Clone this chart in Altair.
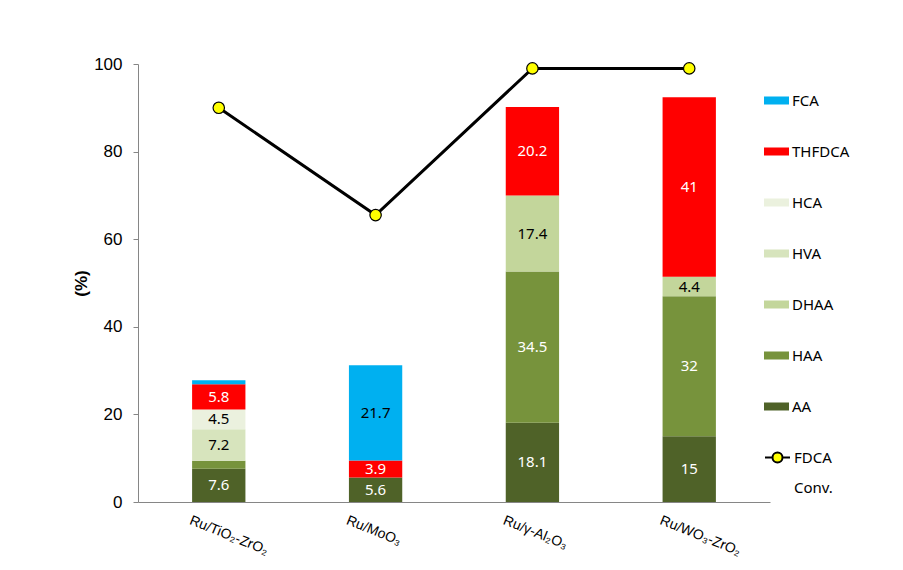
import altair as alt
import pandas as pd

# ---- data ----
catalysts = ["Ru/TiO₂-ZrO₂", "Ru/MoO₃", "Ru/γ-Al₂O₃", "Ru/WO₃-ZrO₂"]
components = ["AA", "HAA", "DHAA", "HVA", "HCA", "THFDCA", "FCA"]  # bottom -> top
AA = [7.6, 5.6, 18.1, 15]
HAA = [1.8, 0, 34.5, 32]
DHAA = [0, 0, 17.4, 4.4]
HVA = [7.2, 0, 0, 0]
HCA = [4.5, 0, 0, 0]
THFDCA = [5.8, 3.9, 20.2, 41]
FCA = [0.9, 21.7, 0, 0]
fdca_conv = [90, 65.5, 99, 99]

legend_order = ["FCA", "THFDCA", "HCA", "HVA", "DHAA", "HAA", "AA"]
legend_colors = ["#00b0f0", "#ff0000", "#ebf1de", "#d7e4bd", "#c3d69b", "#77933c", "#4f6228"]
line_legend = ["FDCA", "Conv."]

series = {"AA": AA, "HAA": HAA, "DHAA": DHAA, "HVA": HVA, "HCA": HCA,
          "THFDCA": THFDCA, "FCA": FCA}

rows = []
for ci, cat in enumerate(catalysts):
    for oi, comp in enumerate(components):
        v = series[comp][ci]
        rows.append({"cat": cat, "comp": comp, "value": v, "ord": oi,
                     "label": f"{v:g}" if v >= 3 else ""})
bars_df = pd.DataFrame(rows)
line_df = pd.DataFrame({"cat": catalysts, "conv": fdca_conv, "s": line_legend[0]})

x_enc = alt.X("cat:N", sort=catalysts, title=None,
              scale=alt.Scale(paddingInner=0.66, paddingOuter=0.345),
              axis=alt.Axis(labelAngle=22, labelAlign="left", labelBaseline="top",
                            labelOffset=-26, labelPadding=11, ticks=False,
                            labelFont="Liberation Sans", labelFontSize=14,
                            labelColor="#000000", domainColor="#868686"))
y_scale = alt.Scale(domain=[0, 100], nice=False)
y_axis = alt.Axis(values=[0, 20, 40, 60, 80, 100], grid=False, title="(%)",
                  titleFont="Liberation Sans", titleFontSize=17, titleFontWeight="bold",
                  titleColor="#000000", titlePadding=3,
                  labelFont="Liberation Sans", labelFontSize=17, labelColor="#000000",
                  labelPadding=11, tickSize=5, tickColor="#868686", domainColor="#868686")

rect_path = "M-1,-0.32H1V0.32H-1Z"
line_sym = ("M-1,0H-0.4M0.4,0H1"
            "M0.4,0A0.4,0.4 0 1,1 -0.4,0A0.4,0.4 0 1,1 0.4,0Z")

base = alt.Chart(bars_df).transform_stack(
    stack="value", groupby=["cat"], as_=["y0", "y1"],
    sort=[alt.SortField("ord", order="ascending")]
)

bars = base.mark_bar().encode(
    x=x_enc,
    y=alt.Y("y0:Q", scale=y_scale, axis=y_axis),
    y2="y1:Q",
    color=alt.Color("comp:N", scale=alt.Scale(domain=legend_order, range=legend_colors),
                    legend=alt.Legend(title=None, orient="none", legendX=626, legendY=24,
                                      symbolType=rect_path, symbolSize=625,
                                      symbolStrokeWidth=0, clipHeight=25, rowPadding=26,
                                      labelFont="Noto Sans", labelFontSize=15,
                                      labelColor="#000000", labelOffset=3, padding=0)),
)

texts = base.transform_filter("datum.label != ''").transform_calculate(
    mid="(datum.y0 + datum.y1) / 2"
).mark_text(font="Noto Sans", fontSize=15, baseline="middle").encode(
    x=alt.X("cat:N", sort=catalysts),
    y=alt.Y("mid:Q", scale=y_scale),
    text="label:N",
    color=alt.condition("indexof(['AA','HAA','THFDCA'], datum.comp) >= 0",
                        alt.value("#ffffff"), alt.value("#000000")),
)

line = alt.Chart(line_df).mark_line(color="#000000", strokeWidth=3).encode(
    x=alt.X("cat:N", sort=catalysts),
    y=alt.Y("conv:Q", scale=y_scale),
)

line_leg = alt.Legend(title=None, orient="none", legendX=626, legendY=381,
                      symbolType=line_sym, symbolSize=625, symbolStrokeWidth=2,
                      clipHeight=25, rowPadding=5,
                      labelFont="Noto Sans", labelFontSize=15,
                      labelColor="#000000", labelOffset=3, padding=0)

points = alt.Chart(line_df).mark_point(filled=True, size=130,
                                       strokeWidth=1.2, opacity=1).encode(
    x=alt.X("cat:N", sort=catalysts),
    y=alt.Y("conv:Q", scale=y_scale),
    fill=alt.Fill("s:N", scale=alt.Scale(domain=line_legend,
                                         range=["#ffff00", "transparent"]),
                  legend=line_leg),
    stroke=alt.Stroke("s:N", scale=alt.Scale(domain=line_legend,
                                             range=["#000000", "transparent"]),
                      legend=line_leg),
)

chart = alt.layer(bars, texts, line, points).resolve_scale(
    color="independent"
).properties(
    width=632, height=438,
    autosize=alt.AutoSizeParams(type="none"),
    padding={"left": 138, "top": 64, "right": 133, "bottom": 68},
    background="#ffffff",
).configure_view(stroke=None)

chart.save("out.html", embed_options={"renderer": "svg", "actions": False})
